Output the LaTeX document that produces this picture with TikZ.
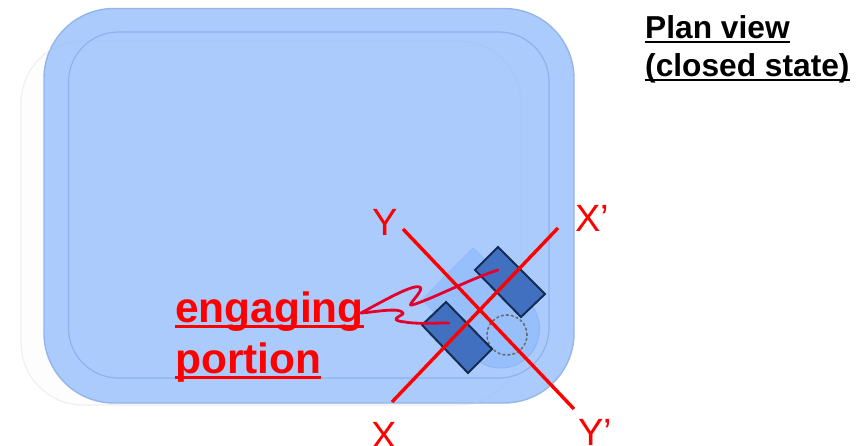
\documentclass[tikz,border=0pt]{standalone}
\usepackage{fontspec}
\setmainfont{Liberation Sans}
\definecolor{bodyblue}{HTML}{ABCBFC}
\definecolor{edgeblue}{HTML}{94B5EA}
\definecolor{innerline}{HTML}{8FB2EE}
\definecolor{ghostline}{HTML}{EFEFEF}
\definecolor{ghostfill}{HTML}{FDFDFD}
\definecolor{ghostinner}{HTML}{A7C7F8}
\definecolor{dropblue}{HTML}{96BFFB}
\definecolor{dropedge}{HTML}{8FB6F0}
\definecolor{darkblue}{HTML}{4270C1}
\definecolor{navyline}{HTML}{152C52}
\definecolor{squiggle}{HTML}{E4002B}
\newcommand{\ulbar}[1]{\setbox0\hbox{#1}\rlap{\rule[-0.145em]{\wd0}{0.065em}}\box0}
\tikzset{
  x=1pt,y=-1pt,
  latch/.style={draw=navyline,line width=2pt,fill=darkblue,line join=miter},
  redline/.style={draw=red,line width=3.4pt},
  squig/.style={draw=squiggle,line width=2.8pt,line cap=round,line join=round},
  axislabel/.style={text=red,font=\fontsize{38}{38}\selectfont,inner sep=0pt,anchor=base},
  calloutlabel/.style={text=red,font=\fontsize{42.4}{42.4}\selectfont\bfseries,inner sep=0pt,anchor=base west},
  titlelabel/.style={text=black,font=\fontsize{31.7}{31.7}\selectfont\bfseries,inner sep=0pt,anchor=base west}
}
\begin{document}
\begin{tikzpicture}
\useasboundingbox (0,0) rectangle (861,446);
% ghost tray
\draw[ghostline,fill=ghostfill,line width=1.2pt,rounded corners=62pt] (21,41) rectangle (521,405);
% outer body
\draw[edgeblue,fill=bodyblue,line width=1.4pt,rounded corners=70pt] (44,8.5) rectangle (574,403);
% ghost seen through
\begin{scope}
\clip[rounded corners=70pt] (44,8.5) rectangle (574,403);
\draw[ghostinner,line width=1pt,rounded corners=62pt] (21,41) rectangle (521,405);
\end{scope}
% inner line
\draw[innerline,line width=1.2pt,rounded corners=50pt] (68.5,32) rectangle (549,378);
% teardrop
\draw[dropedge,line width=1pt] (422,300) -- (473,248) -- (528.6,301.4);
\draw[dropedge,fill=dropblue,line width=1pt] (500.5,329) circle[radius=39pt];
\fill[dropblue] (473,248) -- (422,300) -- (473.4,356.6) -- (528.6,301.4) -- cycle;
% dotted circle
\node[draw=black!58,dash pattern=on 2pt off 3pt,line cap=round,line width=1.6pt,circle,minimum size=40pt,inner sep=0pt] (pivot) at (507,335) {};
% latches
\draw[latch] (498,247) -- (545,294) -- (521,317) -- (475,270) -- cycle;
\draw[latch] (446,302) -- (492,349) -- (468,373) -- (422,325) -- cycle;
% axes
\coordinate (xa) at (392,402); \coordinate (xb) at (558,228);
\coordinate (ya) at (403,229); \coordinate (yb) at (574,409);
\draw[redline] (xa) -- (xb);
\draw[redline] (ya) -- (yb);
\node[axislabel] (lx) at (384,448) {X};
\node[axislabel] (lxp) at (592.5,232) {X’};
\node[axislabel] (ly) at (385,236) {Y};
\node[axislabel] (lyp) at (595.5,445) {Y’};
% callout
\coordinate (tip) at (361,313);
\coordinate (la) at (498,270);
\coordinate (lb) at (449,323);
\draw[squig] (la) .. controls (470,279) and (430,300) .. (412,305)
  .. controls (405,307) and (425,290) .. (420,287)
  .. controls (413,284) and (385,300) .. (tip);
\draw[squig] (lb) .. controls (430,323) and (415,324) .. (405,322)
  .. controls (385,320) and (405,315) .. (403,313)
  .. controls (400,307) and (375,312) .. (tip);
\node[calloutlabel] (eng) at (175,322) {\ulbar{engaging}};
\node[calloutlabel] (por) at (175,373) {\ulbar{portion}};
\node[titlelabel] (t1) at (645,38.5) {\ulbar{Plan view}};
\node[titlelabel] (t2) at (645,76.5) {\ulbar{(closed state)}};
\end{tikzpicture}
\end{document}
